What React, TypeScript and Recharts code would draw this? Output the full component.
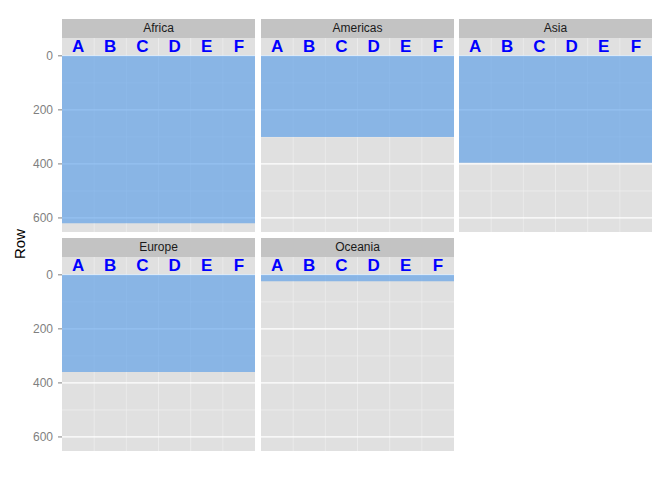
import React from "react";
import {
  ComposedChart,
  Area,
  Scatter,
  XAxis,
  YAxis,
  CartesianGrid,
} from "recharts";

// facet names and how many rows each one fills
const continents = ["Africa", "Americas", "Asia", "Europe", "Oceania"];
const rowCounts = [620, 300, 396, 360, 24];

// column labels drawn inside each panel, and where they sit on the row axis
const columnLabels = ["A", "B", "C", "D", "E", "F"];
const labelRow = -33;

// axis ticks
const majorTicks = [0, 200, 400, 600];
const minorTicks = [100, 300, 500];
const columnEdges = [1.5, 2.5, 3.5, 4.5, 5.5];

const FONT = "'Liberation Sans', Arial, Helvetica, sans-serif";
const PANEL_W = 193;
const PANEL_H = 194;
const AXIS_W = 62;
const STRIP_H = 19.5;
const colLeft = [62, 261, 459];
const rowTop = [38, 257];

const labelData = columnLabels.map((label, i) => ({ x: i + 1, y: labelRow, label }));

const LetterShape = (props: any) => (
  <text
    x={props.cx}
    y={props.cy}
    textAnchor="middle"
    dominantBaseline="central"
    fill="#0000FF"
    fontWeight="bold"
    fontSize={17}
    fontFamily={FONT}
  >
    {props.payload.label}
  </text>
);

const Panel = ({ name, count, index }: { name: string; count: number; index: number }) => {
  const col = index % 3;
  const row = Math.floor(index / 3);
  const showAxis = col === 0;
  const data = [
    { x: 0.5, rows: [0, count] },
    { x: 6.5, rows: [0, count] },
  ];
  const left = showAxis ? colLeft[col] - AXIS_W : colLeft[col];
  const width = showAxis ? PANEL_W + AXIS_W : PANEL_W;

  return (
    <>
      <div
        style={{
          position: "absolute",
          left: colLeft[col],
          top: rowTop[row] - STRIP_H,
          width: PANEL_W,
          height: STRIP_H,
          background: "#C3C3C3",
          fontFamily: FONT,
          fontSize: 12,
          color: "#1A1A1A",
          textAlign: "center",
          lineHeight: `${STRIP_H}px`,
        }}
      >
        {name}
      </div>
      <div style={{ position: "absolute", left, top: rowTop[row] }}>
        <ComposedChart
          width={width}
          height={PANEL_H}
          data={data}
          margin={{ top: 0, right: 0, bottom: 0, left: 0 }}
        >
          <XAxis type="number" dataKey="x" domain={[0.5, 6.5]} hide />
          <YAxis
            type="number"
            domain={[-66, 652]}
            reversed
            ticks={majorTicks}
            hide={!showAxis}
            width={AXIS_W}
            axisLine={false}
            tickSize={4}
            tickMargin={5}
            tickLine={{ stroke: "#7F7F7F" }}
            tick={{ fill: "#7F7F7F", fontSize: 12, fontFamily: FONT }}
          />
          {/* minor grid */}
          <CartesianGrid
            horizontalValues={minorTicks}
            verticalValues={columnEdges}
            stroke="#F2F2F2"
            strokeWidth={0.6}
          />
          {/* major grid */}
          <CartesianGrid
            horizontalValues={majorTicks}
            vertical={false}
            stroke="#FFFFFF"
            strokeWidth={1.2}
          />
          <Area
            type="linear"
            dataKey="rows"
            stroke="none"
            fill="#4F98E7"
            fillOpacity={0.6}
            isAnimationActive={false}
          />
          <Scatter data={labelData} dataKey="y" shape={LetterShape} isAnimationActive={false} />
        </ComposedChart>
      </div>
    </>
  );
};

const App = () => {
  return (
    <div style={{ position: "absolute", left: 0, top: 0, width: 672, height: 480, background: "#FFFFFF" }}>
      {/* grey panel backgrounds */}
      {continents.map((c, i) => (
        <div
          key={"bg" + c}
          style={{
            position: "absolute",
            left: colLeft[i % 3],
            top: rowTop[Math.floor(i / 3)],
            width: PANEL_W,
            height: PANEL_H,
            background: "#E0E0E0",
          }}
        />
      ))}
      {continents.map((c, i) => (
        <Panel key={c} name={c} count={rowCounts[i]} index={i} />
      ))}
      <div
        style={{
          position: "absolute",
          left: 20 - 30,
          top: 244 - 10,
          width: 60,
          height: 20,
          lineHeight: "20px",
          textAlign: "center",
          transform: "rotate(-90deg)",
          fontFamily: FONT,
          fontSize: 15,
          color: "#000000",
        }}
      >
        Row
      </div>
    </div>
  );
};

export default App;
